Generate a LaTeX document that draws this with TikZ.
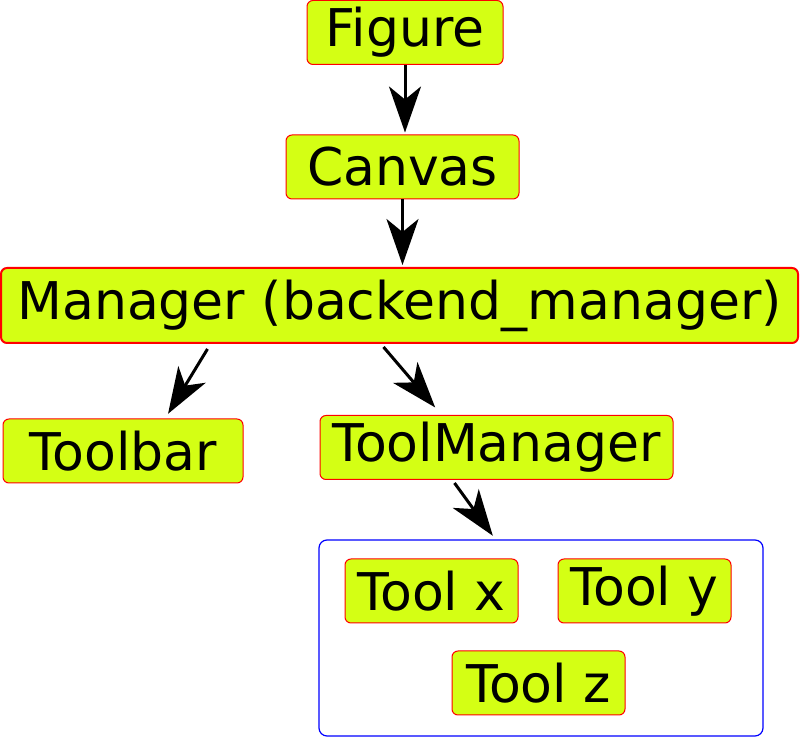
\documentclass[tikz,border=0pt]{standalone}
\usepackage{fontspec}
\setmainfont{DejaVu Sans}
\usetikzlibrary{arrows.meta}
\definecolor{boxfill}{RGB}{212,255,20}
\tikzstyle{block}=[draw=red,fill=boxfill,rounded corners=3pt,line width=0.5pt,minimum height=32pt,inner sep=0pt,font=\fontsize{26}{31}\selectfont]
\tikzstyle{link}=[line width=1.5pt,shorten >=1pt,-{Stealth[length=23pt,width=16pt,inset=6.5pt]}]
\tikzstyle{group}=[draw=blue,line width=0.6pt,rounded corners=4pt,minimum width=222pt,minimum height=98pt,inner sep=0pt]

\begin{document}
\begin{tikzpicture}[x=0.5pt,y=-0.5pt]
  \useasboundingbox (0,0) rectangle (800,737);
  % tool group
  \node[group] (tools) at (541,638) {};
  % chain of objects
  \node[block,minimum width=98pt] (figure) at (405,32.5) {Figure};
  \node[block,minimum width=116.5pt] (canvas) at (402.5,167) {Canvas};
  \node[block,minimum width=398.5pt,minimum height=37.5pt,line width=1pt] (manager) at (399.5,305.5) {Manager (backend\_manager)};
  \node[block,minimum width=120pt] (toolbar) at (123,451) {Toolbar};
  \node[block,minimum width=176.5pt] (toolmgr) at (496.5,447.5) {ToolManager};
  \node[block,minimum width=86.5pt] (toolx) at (431.5,591) {Tool x};
  \node[block,minimum width=86.5pt] (tooly) at (644.5,591) {Tool y};
  \node[block,minimum width=86.5pt] (toolz) at (538.5,683) {Tool z};
  % arrows
  \draw[link] (figure.south) -- (figure.south |- canvas.north);
  \draw[link] (canvas.south) -- (canvas.south |- manager.north);
  \draw[link] ([xshift=-96pt,yshift=-2.5pt]manager.south) -- ([xshift=22pt,yshift=1.5pt]toolbar.north);
  \draw[link] ([xshift=-8pt,yshift=-1.5pt]manager.south) -- ([xshift=-30pt,yshift=3pt]toolmgr.north);
  \draw[link] ([xshift=-21pt,yshift=-1.5pt]toolmgr.south) -- ([xshift=-23.5pt,yshift=1pt]tools.north);
\end{tikzpicture}
\end{document}
